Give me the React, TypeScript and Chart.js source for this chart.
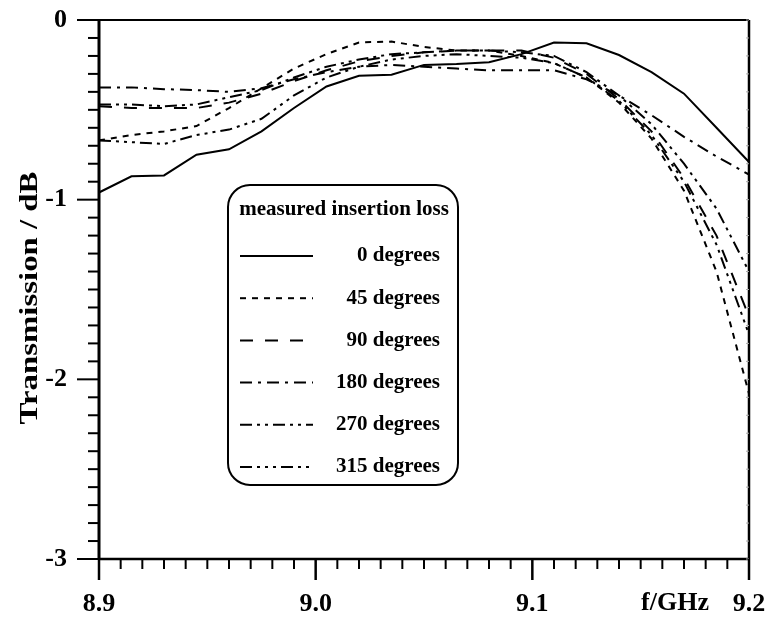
import React, { useEffect, useRef } from "react";
import { Chart, registerables } from "chart.js";

Chart.register(...registerables);

// ---------------- data ----------------
const FREQ_GHZ = [8.9, 8.915, 8.93, 8.945, 8.96, 8.975, 8.99, 9.005, 9.02, 9.035, 9.05, 9.065, 9.08, 9.095, 9.11, 9.125, 9.14, 9.155, 9.17, 9.185, 9.2];

const LOSS_0 = [-0.96, -0.87, -0.865, -0.75, -0.72, -0.62, -0.49, -0.37, -0.31, -0.305, -0.25, -0.245, -0.235, -0.19, -0.125, -0.13, -0.195, -0.29, -0.41, -0.6, -0.79];
const LOSS_45 = [-0.67, -0.64, -0.62, -0.59, -0.49, -0.38, -0.27, -0.19, -0.125, -0.12, -0.15, -0.17, -0.17, -0.2, -0.24, -0.32, -0.46, -0.66, -0.95, -1.4, -2.08];
const LOSS_90 = [-0.48, -0.49, -0.49, -0.49, -0.46, -0.41, -0.34, -0.28, -0.23, -0.2, -0.18, -0.17, -0.17, -0.17, -0.21, -0.3, -0.44, -0.62, -0.88, -1.2, -1.65];
const LOSS_180 = [-0.375, -0.375, -0.385, -0.39, -0.4, -0.38, -0.33, -0.29, -0.26, -0.25, -0.26, -0.27, -0.28, -0.28, -0.28, -0.33, -0.42, -0.53, -0.65, -0.76, -0.86];
const LOSS_270 = [-0.47, -0.47, -0.48, -0.47, -0.43, -0.39, -0.32, -0.26, -0.22, -0.19, -0.18, -0.17, -0.17, -0.18, -0.2, -0.29, -0.42, -0.58, -0.8, -1.05, -1.4];
const LOSS_315 = [-0.67, -0.68, -0.69, -0.64, -0.61, -0.55, -0.42, -0.32, -0.26, -0.22, -0.2, -0.19, -0.2, -0.21, -0.24, -0.32, -0.45, -0.64, -0.9, -1.25, -1.75];

const SERIES = [LOSS_0, LOSS_45, LOSS_90, LOSS_180, LOSS_270, LOSS_315];
const SERIES_LABELS = ["0 degrees", "45 degrees", "90 degrees", "180 degrees", "270 degrees", "315 degrees"];
const SERIES_DASH: number[][] = [[], [6, 6], [13, 12], [12, 6, 3, 6], [12, 5, 3, 5, 3, 5], [12, 5, 3, 5, 3, 5, 3, 5]];

const X_MAJOR = [8.9, 9.0, 9.1, 9.2];
const Y_MAJOR = [0, -1, -2, -3];
const X_UNIT = "f/GHz";
const Y_TITLE = "Transmission / dB";
const LEGEND_TITLE = "measured insertion loss";

const FONT = "'Liberation Serif', 'Times New Roman', serif";

const isMajorX = (v: number) => X_MAJOR.some((m) => Math.abs(m - v) < 1e-6);
const isMajorY = (v: number) => Y_MAJOR.some((m) => Math.abs(m - v) < 1e-6);

const zeroPad = (s: any) => {
  s.paddingLeft = 0;
  s.paddingRight = 0;
  s.paddingTop = 0;
  s.paddingBottom = 0;
};

const decorPlugin = {
  id: "decor",
  afterDraw(chart: any) {
    const ctx = chart.ctx as CanvasRenderingContext2D;
    const ca = chart.chartArea;
    const xs = chart.scales.x;
    const ys = chart.scales.y;
    ctx.save();
    ctx.strokeStyle = "#000";
    ctx.fillStyle = "#000";
    ctx.setLineDash([]);

    // frame
    ctx.lineWidth = 2;
    ctx.beginPath();
    ctx.moveTo(ca.left, ca.top);
    ctx.lineTo(ca.right, ca.top);
    ctx.stroke();
    ctx.lineWidth = 2.5;
    ctx.beginPath();
    ctx.moveTo(ca.right, ca.top);
    ctx.lineTo(ca.right, ca.bottom);
    ctx.stroke();
    ctx.lineWidth = 3;
    ctx.beginPath();
    ctx.moveTo(ca.left, ca.top);
    ctx.lineTo(ca.left, ca.bottom);
    ctx.stroke();
    ctx.lineWidth = 2.5;
    ctx.beginPath();
    ctx.moveTo(ca.left, ca.bottom);
    ctx.lineTo(ca.right, ca.bottom);
    ctx.stroke();

    // y ticks (outside, left)
    for (let i = 0; i <= 30; i++) {
      const v = -i / 10;
      const py = ys.getPixelForValue(v);
      const major = isMajorY(v);
      ctx.lineWidth = 2;
      ctx.strokeStyle = "#000";
      ctx.beginPath();
      ctx.moveTo(ca.left, py);
      ctx.lineTo(ca.left - (major ? 22 : 11), py);
      ctx.stroke();
      // faint inner ticks on right axis
      ctx.lineWidth = 1;
      ctx.strokeStyle = "#aaa";
      ctx.beginPath();
      ctx.moveTo(ca.right, py);
      ctx.lineTo(ca.right - 3, py);
      ctx.stroke();
    }
    // x ticks (outside, below)
    ctx.strokeStyle = "#000";
    for (let i = 0; i <= 30; i++) {
      const v = 8.9 + i / 100;
      const px = xs.getPixelForValue(v);
      const major = isMajorX(Math.round(v * 100) / 100);
      ctx.lineWidth = major ? 2.5 : 2;
      ctx.beginPath();
      ctx.moveTo(px, ca.bottom);
      ctx.lineTo(px, ca.bottom + (major ? 21 : 10));
      ctx.stroke();
    }

    // x unit label
    ctx.font = `bold 26px ${FONT}`;
    ctx.textAlign = "center";
    ctx.textBaseline = "middle";
    ctx.fillText(X_UNIT, 675, ca.bottom + 44);

    // y title (stretched along its length to match the original)
    ctx.save();
    ctx.translate(30, 298);
    ctx.rotate(-Math.PI / 2);
    ctx.font = `bold 26px ${FONT}`;
    const w = ctx.measureText(Y_TITLE).width;
    ctx.scale(253 / w, 1);
    ctx.textAlign = "center";
    ctx.textBaseline = "middle";
    ctx.fillText(Y_TITLE, 0, 0);
    ctx.restore();

    // legend box
    const bx = 228, by = 185, bw = 230, bh = 300, r = 22;
    ctx.lineWidth = 2;
    ctx.strokeStyle = "#000";
    ctx.fillStyle = "#fff";
    ctx.beginPath();
    ctx.moveTo(bx + r, by);
    ctx.lineTo(bx + bw - r, by);
    ctx.arcTo(bx + bw, by, bx + bw, by + r, r);
    ctx.lineTo(bx + bw, by + bh - r);
    ctx.arcTo(bx + bw, by + bh, bx + bw - r, by + bh, r);
    ctx.lineTo(bx + r, by + bh);
    ctx.arcTo(bx, by + bh, bx, by + bh - r, r);
    ctx.lineTo(bx, by + r);
    ctx.arcTo(bx, by, bx + r, by, r);
    ctx.closePath();
    ctx.fill();
    ctx.stroke();

    ctx.fillStyle = "#000";
    ctx.font = `bold 21px ${FONT}`;
    ctx.textAlign = "center";
    ctx.textBaseline = "middle";
    ctx.fillText(LEGEND_TITLE, bx + bw / 2 + 1, 210);

    chart.data.datasets.forEach((ds: any, i: number) => {
      const y = 256 + i * 42.2;
      ctx.lineWidth = 2;
      ctx.setLineDash(ds.borderDash || []);
      ctx.beginPath();
      ctx.moveTo(240, y);
      ctx.lineTo(313, y);
      ctx.stroke();
      ctx.setLineDash([]);
      ctx.textAlign = "right";
      ctx.fillText(ds.label, 440, y);
    });
    ctx.restore();
  },
};

export default function App() {
  const ref = useRef<HTMLCanvasElement | null>(null);
  useEffect(() => {
    if (!ref.current) return;
    const chart = new Chart(ref.current, {
      type: "line",
      data: {
        datasets: SERIES.map((vals, i) => ({
          label: SERIES_LABELS[i],
          data: vals.map((v, j) => ({ x: FREQ_GHZ[j], y: v })),
          borderColor: "#000",
          borderWidth: 2,
          borderDash: SERIES_DASH[i],
          pointRadius: 0,
          tension: 0,
          fill: false,
        })),
      },
      options: {
        animation: false,
        responsive: false,
        devicePixelRatio: 1,
        layout: { padding: { top: 20, right: 20, left: 0, bottom: 0 } },
        plugins: { legend: { display: false }, tooltip: { enabled: false } },
        scales: {
          x: {
            type: "linear",
            min: 8.9,
            max: 9.2,
            grid: { display: false, drawTicks: false },
            border: { display: false },
            ticks: {
              stepSize: 0.01,
              autoSkip: false,
              maxRotation: 0,
              padding: 30,
              color: "#000",
              font: { family: FONT, size: 26, weight: "bold" },
              callback: (value: any) => {
                const v = Math.round(Number(value) * 100) / 100;
                return isMajorX(v) ? v.toFixed(1) : "";
              },
            },
            afterFit: (s: any) => {
              s.height = 60;
              zeroPad(s);
            },
          },
          y: {
            type: "linear",
            min: -3,
            max: 0,
            grid: { display: false, drawTicks: false },
            border: { display: false },
            ticks: {
              stepSize: 0.1,
              autoSkip: false,
              padding: 32,
              color: "#000",
              font: { family: FONT, size: 26, weight: "bold" },
              callback: (value: any) => {
                const v = Math.round(Number(value) * 10) / 10;
                return isMajorY(v) ? String(Math.round(v) === 0 ? 0 : Math.round(v)) : "";
              },
            },
            afterFit: (s: any) => {
              s.width = 99;
              zeroPad(s);
            },
          },
        },
      },
      plugins: [decorPlugin],
    });
    return () => chart.destroy();
  }, []);

  return (
    <div style={{ position: "absolute", left: 0, top: 0, width: 769, height: 619, background: "#fff" }}>
      <canvas ref={ref} width={769} height={619} />
    </div>
  );
}
